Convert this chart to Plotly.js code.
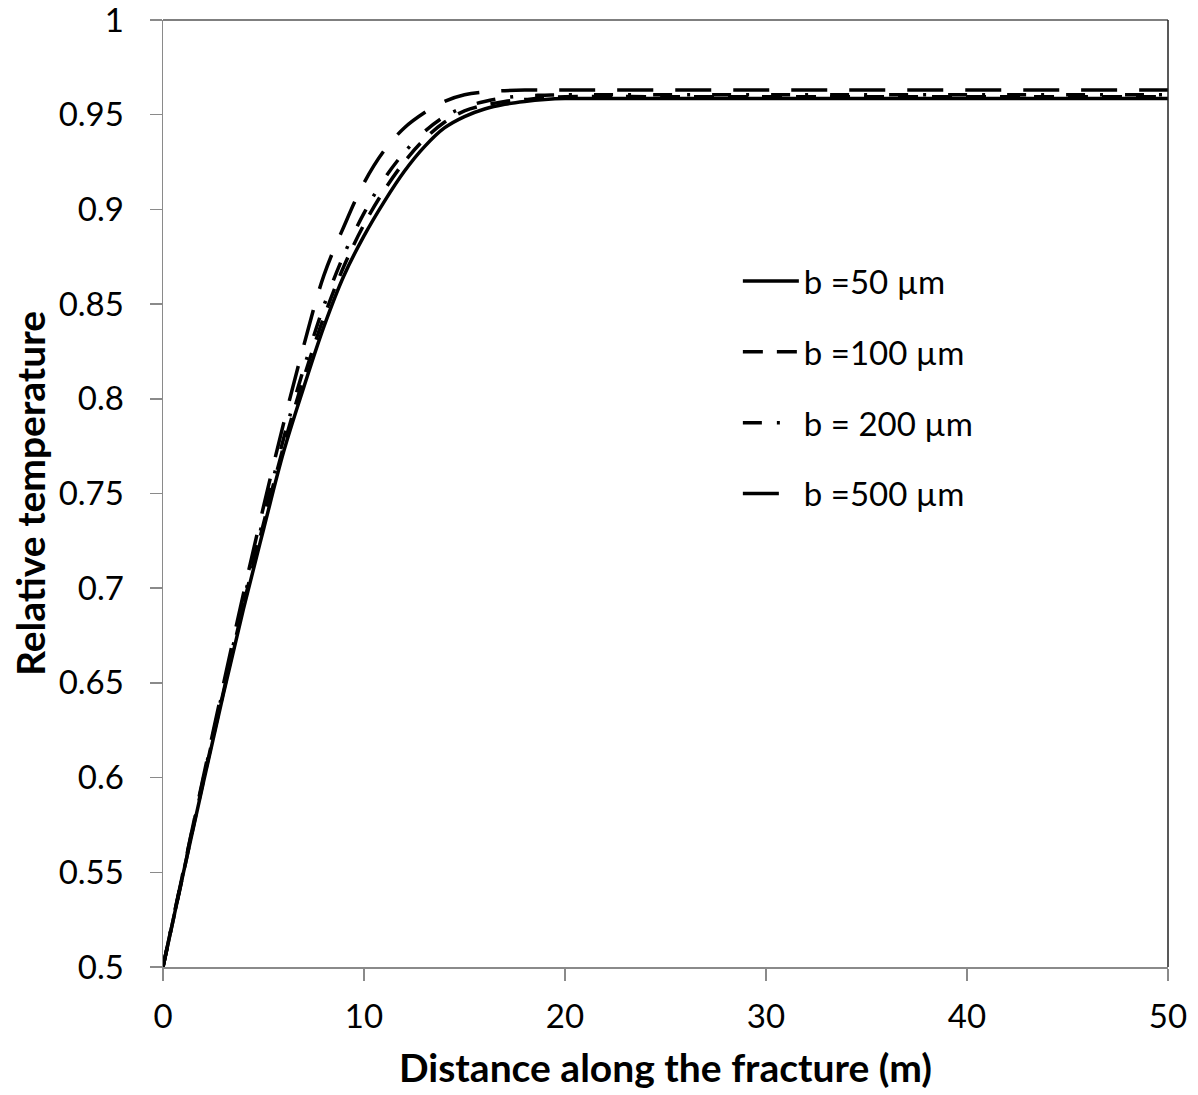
<!DOCTYPE html>
<html>
<head>
<meta charset="utf-8">
<script src="https://cdn.plot.ly/plotly-3.0.1.min.js"></script>
<style>html,body{margin:0;padding:0;background:#fff;}#chart{width:1198px;height:1095px;}</style>
</head>
<body>
<div id="chart"></div>
<script>
// Distance along the fracture (m)
const distance = [0,1,2,3,4,5,6,7,8,9,10,11,12,13,14,15,16,17,18,19,20,25,30,35,40,45,50];

// Relative temperature for each aperture
const temp_b50  = [0.5,0.549,0.597,0.644,0.689,0.731,0.772,0.806,0.838,0.865,0.886,0.904,0.920,0.933,0.943,0.949,0.953,0.9555,0.957,0.958,0.9585,0.9585,0.9585,0.9585,0.9585,0.9585,0.9585];
const temp_b100 = [0.5,0.549,0.598,0.645,0.691,0.734,0.775,0.811,0.843,0.870,0.892,0.910,0.925,0.937,0.946,0.952,0.955,0.957,0.958,0.959,0.9595,0.9595,0.9595,0.9595,0.9595,0.9595,0.9595];
const temp_b200 = [0.5,0.550,0.599,0.647,0.693,0.737,0.779,0.816,0.849,0.876,0.898,0.916,0.930,0.941,0.949,0.954,0.957,0.959,0.960,0.9603,0.9605,0.9605,0.9605,0.9605,0.9605,0.9605,0.9605];
const temp_b500 = [0.5,0.550,0.600,0.649,0.697,0.743,0.787,0.828,0.865,0.891,0.914,0.931,0.943,0.951,0.957,0.9605,0.962,0.9627,0.963,0.963,0.963,0.963,0.963,0.963,0.963,0.963,0.963];

const seriesNames = ["b =50 \u00b5m", "b =100 \u00b5m", "b = 200 \u00b5m", "b =500 \u00b5m"];

const xTickVals = [0,10,20,30,40,50];
const yTickVals = [0.5,0.55,0.6,0.65,0.7,0.75,0.8,0.85,0.9,0.95,1];
const yTickText = ["0.5","0.55","0.6","0.65","0.7","0.75","0.8","0.85","0.9","0.95","1"];

const dashes = ["solid", "20px,14px", "19px,15px,3px,22px", "36px,22px"];
const ys = [temp_b50, temp_b100, temp_b200, temp_b500];

const traces = ys.map((y, i) => ({
  x: distance, y: y, type: "scatter", mode: "lines",
  name: seriesNames[i], legendgroup: "g" + i,
  line: {color: "#000", width: 3.5, dash: dashes[i], shape: "spline", smoothing: 1}
}));

const font = "Lato, 'Open Sans', 'DejaVu Sans', sans-serif";

const layout = {
  width: 1198, height: 1095,
  margin: {l: 163, r: 30, t: 20, b: 128},
  paper_bgcolor: "#fff", plot_bgcolor: "#fff",
  showlegend: true,
  legend: {
    x: 0.572, y: 0.754, xanchor: "left", yanchor: "top",
    font: {family: font, size: 33, color: "#000"},
    bgcolor: "rgba(0,0,0,0)", borderwidth: 0,
    traceorder: "grouped", tracegroupgap: 25, itemwidth: 56
  },
  xaxis: {
    range: [0, 50], tickvals: xTickVals, ticks: "outside", ticklen: 12, tickcolor: "#8a8a8a", tickwidth: 1.5,
    showline: true, linecolor: "#8a8a8a", linewidth: 1.5, showgrid: false, zeroline: false,
    ticklabelstandoff: 8, ticklabeloverflow: "allow",
    tickfont: {family: font, size: 33, color: "#000"},
    title: {text: "<b>Distance along the fracture (m)</b>", font: {family: font, size: 39, color: "#000"}, standoff: 20}
  },
  yaxis: {
    range: [0.5, 1], tickvals: yTickVals, ticktext: yTickText, ticks: "outside", ticklen: 12, tickcolor: "#8a8a8a", tickwidth: 1.5,
    showline: true, linecolor: "#8a8a8a", linewidth: 1.5, showgrid: false, zeroline: false,
    ticklabelstandoff: 19, ticklabeloverflow: "allow",
    tickfont: {family: font, size: 33, color: "#000"},
    title: {text: "<b>Relative temperature</b>", font: {family: font, size: 39, color: "#000"}, standoff: 1}
  },
  shapes: [
    {type: "line", xref: "paper", yref: "paper", x0: 0, x1: 1, y0: 1, y1: 1, line: {color: "#555", width: 1.5}},
    {type: "line", xref: "paper", yref: "paper", x0: 1, x1: 1, y0: 0, y1: 1, line: {color: "#222", width: 1.5}}
  ]
};

Plotly.newPlot("chart", traces, layout, {displayModeBar: false, staticPlot: true});
</script>
</body>
</html>
